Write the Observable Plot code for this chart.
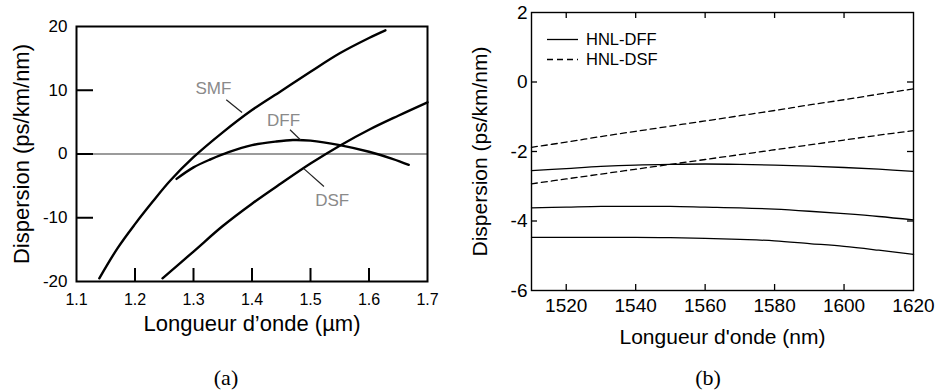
<!DOCTYPE html>
<html><head><meta charset="utf-8">
<script src="https://cdn.jsdelivr.net/npm/d3@7"></script>
<script src="https://cdn.jsdelivr.net/npm/@observablehq/plot@0.6"></script>
<style>
html,body{margin:0;padding:0;background:#fff;}
#wrap{position:relative;width:936px;height:392px;overflow:hidden;font-family:"Liberation Sans",Arial,sans-serif;color:#000;}
.panel{position:absolute;top:0;}
.cap{position:absolute;font-family:"Liberation Serif",serif;font-size:22px;transform:translate(-50%,-50%);line-height:1;}
.leg{position:absolute;display:flex;align-items:center;font-size:16.5px;line-height:1;}
.leg svg{margin-right:8px;}
</style></head><body><div id="wrap"></div>
<script>
// ---------- Panel (a) data ----------
const smfX = [1.139, 1.17, 1.20, 1.23, 1.26, 1.30, 1.35, 1.40, 1.45, 1.50, 1.55, 1.60, 1.628];
const smfY = [-19.5, -14.8, -11.0, -7.5, -4.2, -0.5, 3.4, 6.9, 9.9, 12.9, 15.8, 18.2, 19.4];
const dffX = [1.271, 1.30, 1.33, 1.36, 1.40, 1.44, 1.47, 1.50, 1.55, 1.60, 1.64, 1.668];
const dffY = [-3.9, -2.1, -0.8, 0.3, 1.4, 1.95, 2.2, 2.1, 1.4, 0.35, -0.75, -1.7];
const dsfX = [1.247, 1.30, 1.35, 1.40, 1.45, 1.50, 1.55, 1.60, 1.65, 1.70];
const dsfY = [-19.5, -15.3, -11.3, -7.8, -4.6, -1.5, 1.3, 3.8, 6.0, 8.1];
const fiberNames = ["SMF", "DFF", "DSF"];
const fiberLabelX = [1.334, 1.454, 1.537];
const fiberLabelY = [10.2, 5.2, -7.3];
const leaderX1 = [1.356, 1.465, 1.4885];
const leaderY1 = [8.5, 3.8, -2.3];
const leaderX2 = [1.383, 1.483, 1.523];
const leaderY2 = [6.5, 2.2, -5.1];
const aXTickLabels = [1.1, 1.2, 1.3, 1.4, 1.5, 1.6, 1.7];
const aXInnerTicks = [1.2, 1.3, 1.4, 1.5, 1.6];
const aYTickLabels = [20, 10, 0, -10, -20];
const aYInnerTicks = [10, 0, -10];

// ---------- Panel (b) data ----------
const hnlX = [1510, 1520, 1530, 1540, 1550, 1560, 1570, 1580, 1590, 1600, 1610, 1620];
const hnlDff1 = [-2.55, -2.49, -2.43, -2.39, -2.37, -2.36, -2.37, -2.39, -2.42, -2.46, -2.51, -2.57];
const hnlDff2 = [-3.62, -3.60, -3.58, -3.58, -3.58, -3.60, -3.62, -3.66, -3.72, -3.79, -3.87, -3.97];
const hnlDff3 = [-4.47, -4.47, -4.47, -4.47, -4.48, -4.50, -4.53, -4.57, -4.65, -4.73, -4.84, -4.96];
const hnlDsf1 = [-1.88, -1.73, -1.57, -1.42, -1.27, -1.12, -0.97, -0.82, -0.66, -0.51, -0.35, -0.20];
const hnlDsf2 = [-2.93, -2.79, -2.65, -2.51, -2.37, -2.23, -2.09, -1.95, -1.81, -1.67, -1.53, -1.40];
const bXTickLabels = [1520, 1540, 1560, 1580, 1600, 1620];
const bXInnerTicks = [1520, 1540, 1560, 1580, 1600];
const bYTickLabels = [2, 0, -2, -4, -6];
const bYInnerTicks = [0, -2, -4];
const legendNames = ["HNL-DFF", "HNL-DSF"];

// ---------- build tables ----------
const zip = (xs, ys, s) => xs.map((x, i) => ({x, y: ys[i], s}));
const smf = zip(smfX, smfY, "SMF");
const dff = zip(dffX, dffY, "DFF");
const dsf = zip(dsfX, dsfY, "DSF");
const fiberLabels = fiberNames.map((t, i) => ({t, x: fiberLabelX[i], y: fiberLabelY[i]}));
const leaders = fiberNames.map((t, i) => ({x1: leaderX1[i], y1: leaderY1[i], x2: leaderX2[i], y2: leaderY2[i]}));

const solidSeries = [hnlDff1, hnlDff2, hnlDff3].flatMap((ys, k) => zip(hnlX, ys, "dff" + k));
const dashedSeries = [hnlDsf1, hnlDsf2].flatMap((ys, k) => zip(hnlX, ys, "dsf" + k));

const FONT = "'Liberation Sans', Arial, sans-serif";
const fmt = d => String(d);

// ---------- Panel (a) ----------
const W1 = 470, H1 = 392, mL1 = 76, mT1 = 26, mR1 = 43, mB1 = 111;
const pw1 = W1 - mL1 - mR1, ph1 = H1 - mT1 - mB1;
const plotA = Plot.plot({
  width: W1, height: H1,
  marginLeft: mL1, marginTop: mT1, marginRight: mR1, marginBottom: mB1,
  style: {fontFamily: FONT, background: "transparent", color: "black", overflow: "visible"},
  x: {domain: [1.1, 1.7]},
  y: {domain: [-20, 20]},
  marks: [
    Plot.ruleY([0], {stroke: "#7a7a7a", strokeWidth: 1.3}),
    Plot.tickX(aXInnerTicks, {x: d => d, stroke: "black", strokeWidth: 2, insetTop: ph1 - 13}),
    Plot.tickY(aYInnerTicks, {y: d => d, stroke: "black", strokeWidth: 2, insetRight: pw1 - 17}),
    Plot.line(smf, {x: "x", y: "y", curve: "catmull-rom", stroke: "black", strokeWidth: 2.4}),
    Plot.line(dff, {x: "x", y: "y", curve: "catmull-rom", stroke: "black", strokeWidth: 2.4}),
    Plot.line(dsf, {x: "x", y: "y", curve: "catmull-rom", stroke: "black", strokeWidth: 2.4}),
    Plot.link(leaders, {x1: "x1", y1: "y1", x2: "x2", y2: "y2", stroke: "#222", strokeWidth: 1.2}),
    Plot.text(fiberLabels, {x: "x", y: "y", text: "t", fill: "#8a8a8a", fontSize: 17}),
    Plot.frame({stroke: "black", strokeWidth: 2}),
    Plot.axisX(aXTickLabels, {tickSize: 0, tickPadding: 12, fontSize: 16, tickFormat: fmt, label: null}),
    Plot.axisY(aYTickLabels, {tickSize: 0, tickPadding: 9, fontSize: 17, tickFormat: fmt, label: null}),
    Plot.text(["Longueur d’onde (µm)"], {frameAnchor: "bottom", textAnchor: "middle", lineAnchor: "bottom", dy: 49, fontSize: 22, fill: "black"}),
    Plot.text(["Dispersion (ps/km/nm)"], {frameAnchor: "left", textAnchor: "middle", lineAnchor: "top", rotate: -90, dx: -63, fontSize: 22, fill: "black"})
  ]
});

// ---------- Panel (b) ----------
const W2 = 466, H2 = 392, mL2 = 61, mT2 = 12, mR2 = 23, mB2 = 102;
const pw2 = W2 - mL2 - mR2, ph2 = H2 - mT2 - mB2;
const plotB = Plot.plot({
  width: W2, height: H2,
  marginLeft: mL2, marginTop: mT2, marginRight: mR2, marginBottom: mB2,
  style: {fontFamily: FONT, background: "transparent", color: "black", overflow: "visible"},
  x: {domain: [1510, 1620]},
  y: {domain: [-6, 2]},
  marks: [
    Plot.tickX(bXInnerTicks, {x: d => d, stroke: "black", strokeWidth: 1.3, insetTop: ph2 - 6}),
    Plot.tickX(bXInnerTicks, {x: d => d, stroke: "black", strokeWidth: 1.3, insetBottom: ph2 - 6}),
    Plot.tickY(bYInnerTicks, {y: d => d, stroke: "black", strokeWidth: 1.3, insetRight: pw2 - 6}),
    Plot.tickY(bYInnerTicks, {y: d => d, stroke: "black", strokeWidth: 1.3, insetLeft: pw2 - 6}),
    Plot.line(solidSeries, {x: "x", y: "y", z: "s", curve: "catmull-rom", stroke: "black", strokeWidth: 1.3}),
    Plot.line(dashedSeries, {x: "x", y: "y", z: "s", curve: "catmull-rom", stroke: "black", strokeWidth: 1.3, strokeDasharray: "6,4"}),
    Plot.frame({stroke: "black", strokeWidth: 1.4}),
    Plot.axisX(bXTickLabels, {tickSize: 0, tickPadding: 8, fontSize: 19, tickFormat: fmt, label: null}),
    Plot.axisY(bYTickLabels, {tickSize: 0, tickPadding: 4, fontSize: 19, tickFormat: fmt, label: null}),
    Plot.text(["Longueur d'onde (nm)"], {frameAnchor: "bottom", textAnchor: "middle", lineAnchor: "bottom", dy: 53, fontSize: 21, fill: "black"}),
    Plot.text(["Dispersion (ps/km/nm)"], {frameAnchor: "left", textAnchor: "middle", lineAnchor: "top", rotate: -90, dx: -59, fontSize: 21, fill: "black"})
  ]
});

const wrap = document.getElementById("wrap");
plotA.classList.add("panel"); plotA.style.left = "0px";
plotB.classList.add("panel"); plotB.style.left = "470px";
wrap.appendChild(plotA);
wrap.appendChild(plotB);

// legend (b)
const dashes = ["", "6,4"];
legendNames.forEach((name, i) => {
  const row = document.createElement("div");
  row.className = "leg";
  row.style.left = "547px";
  row.style.top = (30 + i * 20) + "px";
  row.innerHTML = `<svg width="31" height="18"><line x1="0" y1="9.5" x2="31" y2="9.5" stroke="black" stroke-width="1.3" ${dashes[i] ? `stroke-dasharray="${dashes[i]}"` : ""}/></svg><span>${name}</span>`;
  wrap.appendChild(row);
});

// captions
[["(a)", 226], ["(b)", 708]].forEach(([t, x]) => {
  const c = document.createElement("div");
  c.className = "cap";
  c.textContent = t;
  c.style.left = x + "px";
  c.style.top = "378px";
  wrap.appendChild(c);
});
</script>
</body></html>
